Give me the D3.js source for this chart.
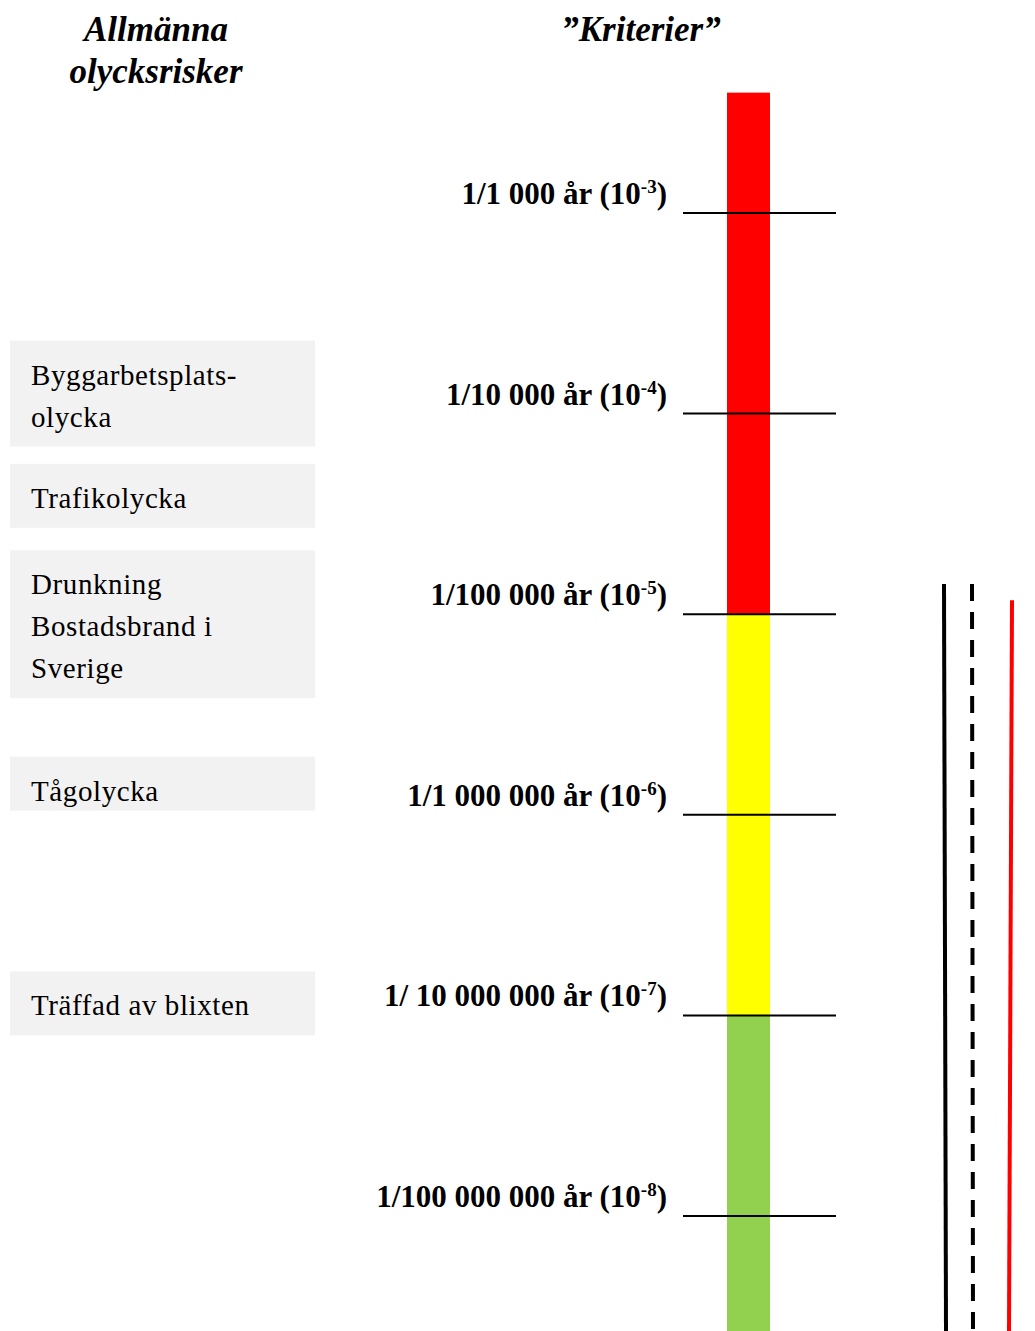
<!DOCTYPE html>
<html lang="sv">
<head>
<meta charset="UTF-8">
<script src="https://d3js.org/d3.v7.min.js"></script>
<title>Allmänna olycksrisker</title>
<style>
  body { margin: 0; background: #fff; }
  text { font-family: "Liberation Serif", "DejaVu Serif", serif; fill: #000; }
</style>
</head>
<body>
<svg id="chart" width="1035" height="1331"></svg>
<script>
// criteria levels (exponent of frequency per year)
var levelExp = [-3, -4, -5, -6, -7, -8];
var levelText = ["1/1 000 år", "1/10 000 år", "1/100 000 år", "1/1 000 000 år", "1/ 10 000 000 år", "1/100 000 000 år"];

// colour zones of the bar (exponent ranges)
var zoneFrom = [-2.4, -5, -7];
var zoneTo = [-5, -7, -8.6];
var zoneColor = ["#ff0000", "#ffff00", "#92d050"];

// general accident risks, placed at their estimated exponent
var riskLines = [["Byggarbetsplats-", "olycka"], ["Trafikolycka"], ["Drunkning", "Bostadsbrand i", "Sverige"], ["Tågolycka"], ["Träffad av blixten"]];
var riskExp = [-3.9, -4.41, -5.05, -5.845, -6.94];

// vertical lines on the right (start exponent)
var sideStart = [-4.85, -4.85, -4.93];
var sideColor = ["#000", "#000", "#ff0000"];
var sideDash = [null, "17,11", null];

var svg = d3.select('#chart');

var y = d3.scaleLinear()
    .domain([-3, -8])
    .range([213, 1216]);

// headers
var h1 = svg.append('text')
    .attr('x', 156)
    .attr('text-anchor', 'middle')
    .style('font-size', '35px')
    .style('font-weight', 'bold')
    .style('font-style', 'italic');
h1.append('tspan').attr('x', 156).attr('y', 41).text('Allmänna');
h1.append('tspan').attr('x', 156).attr('y', 83).text('olycksrisker');

svg.append('text')
    .attr('x', 641)
    .attr('y', 41)
    .attr('text-anchor', 'middle')
    .style('font-size', '35px')
    .style('font-weight', 'bold')
    .style('font-style', 'italic')
    .text('\u201dKriterier\u201d');

// bar zones
svg.selectAll('.zone')
    .data(zoneColor)
    .enter().append('rect')
    .attr('class', 'zone')
    .attr('x', 727)
    .attr('width', 43)
    .attr('y', function(d, i){ return y(zoneFrom[i]); })
    .attr('height', function(d, i){ return y(zoneTo[i]) - y(zoneFrom[i]); })
    .attr('fill', function(d){ return d; });

// tick lines
svg.selectAll('.tick-line')
    .data(levelExp)
    .enter().append('line')
    .attr('class', 'tick-line')
    .attr('x1', 683)
    .attr('x2', 836)
    .attr('y1', function(d){ return y(d); })
    .attr('y2', function(d){ return y(d); })
    .attr('stroke', '#000')
    .attr('stroke-width', 2);

// level labels with superscript exponent
var lbl = svg.selectAll('.level-label')
    .data(levelExp)
    .enter().append('text')
    .attr('class', 'level-label')
    .attr('x', 667)
    .attr('y', function(d){ return y(d) - 9; })
    .attr('text-anchor', 'end')
    .style('font-size', '31px')
    .style('font-weight', 'bold');
lbl.append('tspan').text(function(d, i){ return levelText[i] + ' (10'; });
lbl.append('tspan')
    .attr('dy', -11)
    .style('font-size', '19px')
    .text(function(d){ return '-' + (-d); });
lbl.append('tspan')
    .attr('dy', 11)
    .text(')');

// risk boxes (one-line boxes are shorter for Tågolycka)
var lineH = 42;
var boxH = function(d, i){ return i === 3 ? 54 : d.length * lineH + 22; };
var boxes = svg.selectAll('.risk')
    .data(riskLines)
    .enter().append('g')
    .attr('class', 'risk')
    .attr('transform', function(d, i){
        return 'translate(10,' + (y(riskExp[i]) - boxH(d, i) / 2) + ')';
    });

boxes.append('rect')
    .attr('width', 305)
    .attr('height', boxH)
    .attr('fill', '#f2f2f2');

boxes.selectAll('text')
    .data(function(d){ return d; })
    .enter().append('text')
    .attr('x', 21)
    .attr('y', function(d, i){ return 44 + i * lineH; })
    .style('font-size', '29px')
    .style('letter-spacing', '0.6px')
    .text(function(d){ return d; });

// side lines
svg.selectAll('.side')
    .data(sideStart)
    .enter().append('line')
    .attr('class', 'side')
    .attr('x1', function(d, i){ return [944, 972, 1012][i]; })
    .attr('x2', function(d, i){ return [946, 973, 1009][i]; })
    .attr('y1', function(d){ return y(d); })
    .attr('y2', 1331)
    .attr('stroke', function(d, i){ return sideColor[i]; })
    .attr('stroke-width', 4)
    .attr('stroke-dasharray', function(d, i){ return sideDash[i]; });
</script>
</body>
</html>
